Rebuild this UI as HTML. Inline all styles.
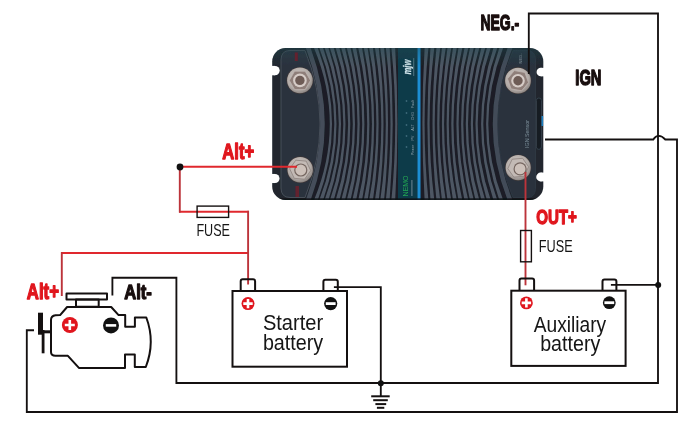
<!DOCTYPE html>
<html><head><meta charset="utf-8">
<style>
html,body{margin:0;padding:0;background:#fff;width:700px;height:424px;overflow:hidden}
svg{display:block}
text{font-family:"Liberation Sans",sans-serif}
</style></head><body>
<svg width="700" height="424" viewBox="0 0 700 424">
<defs>
  <radialGradient id="washer" cx="45%" cy="40%" r="60%"><stop offset="0" stop-color="#d2cbc7"/><stop offset="0.75" stop-color="#b3aca8"/><stop offset="1" stop-color="#8e8784"/></radialGradient>
  <linearGradient id="sheen" x1="0" y1="0" x2="0" y2="1"><stop offset="0" stop-color="#1f4a52" stop-opacity="0.4"/><stop offset="1" stop-color="#1f4a52" stop-opacity="0"/></linearGradient>
  <radialGradient id="nut" cx="50%" cy="45%" r="55%">
    <stop offset="0" stop-color="#b8a8a0"/>
    <stop offset="0.6" stop-color="#a39a95"/>
    <stop offset="1" stop-color="#6a6462"/>
  </radialGradient>
  <filter id="txt" x="-10%" y="-10%" width="120%" height="120%"><feGaussianBlur stdDeviation="0.25"/></filter>
  <filter id="soft" x="-5%" y="-5%" width="110%" height="110%"><feGaussianBlur stdDeviation="0.45"/></filter>
  <clipPath id="bodyclip"><rect x="272.2" y="48" width="271.1" height="152" rx="13.5"/></clipPath>
</defs>
<rect width="700" height="424" fill="#fff"/>

<!-- ============ DEVICE ============ -->
<g id="device" filter="url(#soft)">
  <rect x="272.2" y="48" width="271.1" height="152" rx="13.5" fill="#20272f"/>
  <g clip-path="url(#bodyclip)">
    <!-- left plate -->
    <path d="M281,60 Q281,50.5 290,50.5 L305,50.5 Q335,124 305,197.5 L290,197.5 Q281,197.5 281,188 Z" fill="#2c323e" stroke="#474f59" stroke-width="1"/>
    <!-- right plate -->
    <path d="M535.5,60 Q535.5,50.5 527,50.5 L513,50.5 Q482,124 513,197.5 L527,197.5 Q535.5,197.5 535.5,188 Z" fill="#29323e" stroke="#313a45" stroke-width="0.8"/>
    <!-- fin area -->
    <path d="M307.5,46 Q337.5,124 307.5,202 L398,202 L398,46 Z" fill="#1a1f26"/>
    <path d="M420,46 L420,202 L510.8,202 Q479.2,124 510.8,46 Z" fill="#1a1f26"/>
    <g fill="#4d5764">
<path d="M313.16,46 Q346.44,124 313.16,202 L317.04,202 Q346.96,124 317.04,46 Z"/>
<path d="M318.53,46 Q350.07,124 318.53,202 L322.41,202 Q350.59,124 322.41,46 Z"/>
<path d="M323.90,46 Q353.70,124 323.90,202 L327.78,202 Q354.22,124 327.78,46 Z"/>
<path d="M329.27,46 Q357.33,124 329.27,202 L333.15,202 Q357.85,124 333.15,46 Z"/>
<path d="M334.99,46 Q361.21,124 334.99,202 L338.88,202 Q361.72,124 338.88,46 Z"/>
<path d="M340.60,46 Q365.00,124 340.60,202 L344.49,202 Q365.51,124 344.49,46 Z"/>
<path d="M346.21,46 Q368.79,124 346.21,202 L350.10,202 Q369.30,124 350.10,46 Z"/>
<path d="M351.82,46 Q372.58,124 351.82,202 L355.70,202 Q373.10,124 355.70,46 Z"/>
<path d="M357.79,46 Q376.61,124 357.79,202 L361.67,202 Q377.13,124 361.67,46 Z"/>
<path d="M363.39,46 Q380.41,124 363.39,202 L367.28,202 Q380.92,124 367.28,46 Z"/>
<path d="M368.76,46 Q384.04,124 368.76,202 L372.65,202 Q384.55,124 372.65,46 Z"/>
<path d="M374.61,46 Q387.99,124 374.61,202 L378.50,202 Q388.50,124 378.50,46 Z"/>
<path d="M379.98,46 Q391.62,124 379.98,202 L383.87,202 Q392.13,124 383.87,46 Z"/>
<path d="M385.59,46 Q395.41,124 385.59,202 L389.47,202 Q395.93,124 389.47,46 Z"/>
<path d="M391.20,46 Q399.20,124 391.20,202 L395.08,202 Q399.72,124 395.08,46 Z"/>
<path d="M424.72,46 Q420.08,124 424.72,202 L428.60,202 Q420.60,124 428.60,46 Z"/>
<path d="M430.63,46 Q424.17,124 430.63,202 L434.51,202 Q424.69,124 434.51,46 Z"/>
<path d="M436.65,46 Q428.35,124 436.65,202 L440.54,202 Q428.86,124 440.54,46 Z"/>
<path d="M442.21,46 Q432.19,124 442.21,202 L446.09,202 Q432.71,124 446.09,46 Z"/>
<path d="M447.76,46 Q436.04,124 447.76,202 L451.65,202 Q436.55,124 451.65,46 Z"/>
<path d="M453.32,46 Q439.88,124 453.32,202 L457.20,202 Q440.40,124 457.20,46 Z"/>
<path d="M458.87,46 Q443.73,124 458.87,202 L462.76,202 Q444.24,124 462.76,46 Z"/>
<path d="M464.90,46 Q447.90,124 464.90,202 L468.79,202 Q448.41,124 468.79,46 Z"/>
<path d="M470.46,46 Q451.74,124 470.46,202 L474.34,202 Q452.26,124 474.34,46 Z"/>
<path d="M476.01,46 Q455.59,124 476.01,202 L479.90,202 Q456.10,124 479.90,46 Z"/>
<path d="M481.92,46 Q459.68,124 481.92,202 L485.81,202 Q460.19,124 485.81,46 Z"/>
<path d="M487.48,46 Q463.52,124 487.48,202 L491.36,202 Q464.04,124 491.36,46 Z"/>
<path d="M494.09,46 Q468.11,124 494.09,202 L497.98,202 Q468.62,124 497.98,46 Z"/>
<path d="M500.00,46 Q472.20,124 500.00,202 L503.89,202 Q472.71,124 503.89,46 Z"/>
    </g>
    <!-- highlight bands -->
    <path d="M307.5,46 Q337.5,124 307.5,202" stroke="#454e5a" stroke-width="4.5" fill="none"/>
    <path d="M510.8,46 Q479.2,124 510.8,202" stroke="#434c59" stroke-width="4.5" fill="none"/>
    <!-- center panel -->
    <rect x="398" y="46" width="19.5" height="156" fill="#0f3a4a"/>
    <rect x="417.5" y="46" width="3" height="156" fill="#1d8fd3"/>
    <!-- logo -->
    <g transform="translate(406.5,67) rotate(-90)" fill="#cfe4ea"><text x="0" y="4" font-size="11.5" font-weight="bold" font-style="italic" text-anchor="middle" textLength="15" lengthAdjust="spacingAndGlyphs" stroke="#cfe4ea" stroke-width="0.3">mjw</text></g>
    <rect x="413.3" y="58" width="0.9" height="18" fill="#5d7f8b"/>
    <!-- LED labels -->
    <g fill="#8fa6ae" font-size="3.6">
      <text transform="translate(414.2,104) rotate(-90)" text-anchor="middle">Fault</text>
      <text transform="translate(414.2,116) rotate(-90)" text-anchor="middle">CHG</text>
      <text transform="translate(414.2,127.5) rotate(-90)" text-anchor="middle">ALT</text>
      <text transform="translate(414.2,138) rotate(-90)" text-anchor="middle">PV</text>
      <text transform="translate(414.2,150) rotate(-90)" text-anchor="middle">Power</text>
    </g>
    <g fill="#3e6a78">
      <circle cx="406.5" cy="101" r="0.9"/><circle cx="406.5" cy="113" r="0.9"/><circle cx="406.5" cy="125" r="0.9"/><circle cx="406.5" cy="136" r="0.9"/><circle cx="406.5" cy="147" r="0.9"/>
    </g>
    <text transform="translate(407.8,186) rotate(-90)" text-anchor="middle" font-size="7.5" fill="#22a553" textLength="21" lengthAdjust="spacingAndGlyphs">NEMO</text>
    <rect x="411.3" y="180" width="1.2" height="16" fill="#5f7b86"/>
    <rect x="272" y="198.3" width="272" height="2.5" fill="#0d1014" opacity="0.85"/>
    <!-- top teal sheen -->
    <rect x="272" y="48" width="272" height="18" fill="url(#sheen)"/>
  </g>
  <!-- red polarity marks -->
  <rect x="294.8" y="52.5" width="3" height="8.5" fill="#6a1e2c" opacity="0.9"/>
  <rect x="295.5" y="186" width="3.5" height="11" fill="#6a1e2c" opacity="0.9"/>
  <!-- right slot -->
  <rect x="536.4" y="98" width="5" height="51.4" rx="2.5" fill="#161c22" stroke="#3a4651" stroke-width="0.8"/>
  <rect x="541.5" y="116" width="1.6" height="10" fill="#1e7fc0"/>
  <g fill="#7d8f98" font-size="4">
    <text transform="translate(529.3,134) rotate(-90)" text-anchor="middle" font-size="5" textLength="28" lengthAdjust="spacingAndGlyphs">IGN    Sensor</text>
    <text transform="translate(522,58.5) rotate(-90)" text-anchor="middle">NEG-</text>
  </g>
  <!-- notches -->
  <g fill="#fff">
    <rect x="271" y="65.9" width="4" height="9.4"/><circle cx="275" cy="70.6" r="4.7"/>
    <rect x="271" y="173.95" width="4" height="9.1"/><circle cx="275" cy="178.5" r="4.55"/>
    <rect x="540.8" y="67.85" width="4" height="8.5"/><circle cx="540.8" cy="72.1" r="4.25"/>
    <rect x="540.6" y="172.6" width="4" height="8.8"/><circle cx="540.6" cy="177" r="4.4"/>
  </g>
  <!-- terminals -->
  <g>
    <circle cx="299.9" cy="80.4" r="13.5" fill="#3b3637"/>
    <circle cx="299.9" cy="80.4" r="12.8" fill="url(#washer)"/>
    <polygon points="310.5,80.4 305.2,89.6 294.6,89.6 289.3,80.4 294.6,71.2 305.2,71.2" fill="#8f7f7a" stroke="#bdb3ae" stroke-width="0.8"/>
    <circle cx="299.9" cy="80.4" r="6.8" fill="#d6ccc7"/>
    <circle cx="299.9" cy="80.4" r="4.7" fill="#6e5b56"/>
    <circle cx="518" cy="80.7" r="13.6" fill="#3b3637"/>
    <circle cx="518" cy="80.7" r="12.9" fill="url(#washer)"/>
    <polygon points="528.5,82.6 521.7,90.8 511.1,88.9 507.5,78.8 514.3,70.6 524.9,72.5" fill="#8f7f7a" stroke="#bdb3ae" stroke-width="0.8"/>
    <circle cx="518" cy="80.7" r="6.8" fill="#d6ccc7"/>
    <circle cx="518" cy="80.7" r="4.7" fill="#6e5b56"/>
    <circle cx="300.2" cy="169.7" r="13.399999999999999" fill="#3b3637"/>
    <circle cx="300.2" cy="169.7" r="12.7" fill="url(#washer)"/>
    <polygon points="310.7,170.6 304.6,179.2 294.2,178.3 289.7,168.8 295.8,160.2 306.2,161.1" fill="#c3bab5" stroke="#8d827e" stroke-width="0.8"/>
    <circle cx="300.8" cy="170" r="6.6" fill="#74655f"/>
    <circle cx="300.8" cy="170" r="5.4" fill="#cdc1ba"/>
    <circle cx="518.2" cy="167.7" r="13.299999999999999" fill="#3b3637"/>
    <circle cx="518.2" cy="167.7" r="12.6" fill="url(#washer)"/>
    <polygon points="528.6,166.8 524.2,176.2 513.8,177.1 507.8,168.6 512.2,159.2 522.6,158.3" fill="#c3bab5" stroke="#8d827e" stroke-width="0.8"/>
    <circle cx="520.1" cy="168.9" r="6.6" fill="#74655f"/>
    <circle cx="520.1" cy="168.9" r="5.4" fill="#cdc1ba"/>
  </g>
</g>

<!-- ============ WIRES ============ -->
<g fill="none" stroke-linejoin="miter" stroke-linecap="butt">
  <!-- black: NEG / Alt- / ground loop -->
  <path d="M528.8,74 V13.5 H658 V383 H176.4 V277.7 H112.4 V295.5" stroke="#141010" stroke-width="1.85"/>
  <!-- IGN loop -->
  <path d="M545,139.5 H653.3 Q655.5,135.9 658.8,135.9 Q662,135.9 665.3,139.5 H677 V412 H26.8 V330.2 H34" stroke="#141010" stroke-width="1.85"/>
  <!-- starter neg to ground -->
  <path d="M333.9,287.1 H380.8 V396" stroke="#141010" stroke-width="1.85"/>
  <!-- aux neg -->
  <path d="M610.9,284.9 H658" stroke="#141010" stroke-width="1.85"/>
  <!-- red wires: horizontals bright, verticals slightly darker -->
  <g stroke="#e0282e" stroke-width="2">
    <path d="M297,166.8 H179"/>
    <path d="M179,211.7 H249"/>
    <path d="M61,253.1 H249"/>
  </g>
  <g stroke="#bc343b" stroke-width="1.9">
    <path d="M179.8,166.8 V212.6"/>
    <path d="M248.1,210.8 V284.5"/>
    <path d="M61.8,296 V252.2"/>
    <path d="M525.5,172 V285.3"/>
  </g>
</g>
<!-- junction dots -->
<circle cx="180" cy="167" r="3.4" fill="#111"/>
<circle cx="380.8" cy="383.2" r="3" fill="#111"/>
<circle cx="658.2" cy="284.9" r="3" fill="#111"/>

<!-- ground -->
<g stroke="#141010" stroke-width="2">
  <line x1="371.2" y1="396.3" x2="389.7" y2="396.3"/>
  <line x1="373.2" y1="400.2" x2="387.8" y2="400.2"/>
  <line x1="375.4" y1="404.1" x2="386.2" y2="404.1"/>
  <line x1="376.9" y1="407.8" x2="384.3" y2="407.8"/>
</g>

<!-- fuses -->
<rect x="197.1" y="206.1" width="31.5" height="11.3" fill="none" stroke="#141010" stroke-width="1.4"/>
<rect x="520.6" y="230.5" width="10.8" height="31.3" fill="none" stroke="#141010" stroke-width="1.4"/>

<!-- batteries -->
<g fill="none" stroke="#141010" stroke-width="2">
  <rect x="232.5" y="291" width="114.5" height="75.7"/>
  <path d="M240.7,291 V281.2 Q240.7,279.2 242.7,279.2 H253.1 Q255.1,279.2 255.1,281.2 V291"/>
  <path d="M323.4,291 V281.8 Q323.4,279.8 325.4,279.8 H335.8 Q337.8,279.8 337.8,281.8 V291"/>
  <rect x="511.3" y="290.7" width="114.3" height="75.2"/>
  <path d="M519.5,290.7 V280.5 Q519.5,278.5 521.5,278.5 H532.1 Q534.1,278.5 534.1,280.5 V290.7"/>
  <path d="M602.5,290.7 V281.4 Q602.5,279.4 604.5,279.4 H614.4 Q616.4,279.4 616.4,281.4 V290.7"/>
</g>
<!-- battery signs -->
<g>
  <circle cx="248" cy="303.6" r="6.5" fill="#e0161e"/>
  <path d="M243.3,303.6 H252.7 M248,298.9 V308.3" stroke="#fff" stroke-width="2.6"/>
  <circle cx="330.7" cy="303.6" r="6.6" fill="#111"/>
  <path d="M325.8,303.6 H335.6" stroke="#fff" stroke-width="2.8"/>
  <circle cx="526.4" cy="302.9" r="6.4" fill="#e0161e"/>
  <path d="M521.7,302.9 H531.1 M526.4,298.2 V307.6" stroke="#fff" stroke-width="2.6"/>
  <circle cx="609.3" cy="302.7" r="6.4" fill="#111"/>
  <path d="M604.4,302.7 H614.2" stroke="#fff" stroke-width="2.8"/>
</g>

<!-- engine -->
<g fill="none" stroke="#141010" stroke-width="2" stroke-linejoin="round">
  <rect x="66.5" y="293.5" width="40.5" height="6"/>
  <rect x="76" y="299.5" width="22.7" height="7.3"/>
  <path d="M67.1,307 L60.1,315.1 L55.5,315.3 Q51,315.8 51,320 L51,352 Q51,355.8 55.4,355.8 L67.9,355.8 L78.9,367.9 L125,367.9 L125,354.5 L134.8,354.5 L134.8,367 L145.8,367 Q155.5,342 146.3,317.5 L134.9,317.5 L134.9,326.8 L125.2,326.8 L125.2,315.1 L118.6,315.1 L111.2,307 Z"/>
</g>
<!-- engine fan -->
<rect x="38" y="312.7" width="5" height="22" fill="#141010"/>
<rect x="41.7" y="330" width="2.8" height="23.3" fill="#141010"/>
<rect x="43" y="330.3" width="8.5" height="3" fill="#141010"/>
<circle cx="69.9" cy="325" r="8" fill="#e0161e"/>
<path d="M64.8,325 H74.8 M69.8,320 V330" stroke="#fff" stroke-width="2.6"/>
<circle cx="111" cy="325.4" r="8" fill="#111"/>
<path d="M105.8,325.4 H116.2" stroke="#fff" stroke-width="2.6"/>

<!-- labels -->
<g font-weight="bold" stroke-width="1" stroke-linejoin="round" filter="url(#txt)">
  <text x="222.35" y="159.1" font-size="21.6" fill="#e0141e" stroke="#e0141e" stroke-width="1.3" textLength="31.7" lengthAdjust="spacingAndGlyphs">Alt+</text>
  <text x="26.85" y="299.1" font-size="21.6" fill="#e0141e" stroke="#e0141e" stroke-width="1.3" textLength="32.1" lengthAdjust="spacingAndGlyphs">Alt+</text>
  <text x="124.25" y="298.95" font-size="20.6" fill="#1a0e0e" stroke="#1a0e0e" stroke-width="1.3" textLength="27.6" lengthAdjust="spacingAndGlyphs">Alt-</text>
  <text x="536.15" y="224.05" font-size="21.1" fill="#e0141e" stroke="#e0141e" stroke-width="1.3" textLength="40.8" lengthAdjust="spacingAndGlyphs">OUT+</text>
  <text x="480.4" y="29.7" font-size="21.8" fill="#1a0e0e" stroke="#1a0e0e" stroke-width="1.4" textLength="38.9" lengthAdjust="spacingAndGlyphs">NEG.-</text>
  <text x="575.3" y="85.1" font-size="21.4" fill="#1a0e0e" stroke="#1a0e0e" stroke-width="1.4" textLength="26.1" lengthAdjust="spacingAndGlyphs">IGN</text>
</g>
<g fill="#141414" filter="url(#txt)">
  <text x="196.4" y="236.4" font-size="16.5" textLength="33.6" lengthAdjust="spacingAndGlyphs">FUSE</text>
  <text x="538.8" y="251.9" font-size="16" textLength="33.8" lengthAdjust="spacingAndGlyphs">FUSE</text>
  <text x="262.9" y="330.2" font-size="21.5" textLength="60.3" lengthAdjust="spacingAndGlyphs">Starter</text>
  <text x="262.9" y="349.9" font-size="21.5" textLength="60.3" lengthAdjust="spacingAndGlyphs">battery</text>
  <text x="533.7" y="331.7" font-size="21.5" textLength="72.5" lengthAdjust="spacingAndGlyphs">Auxiliary</text>
  <text x="540.2" y="351.3" font-size="21.5" textLength="60.1" lengthAdjust="spacingAndGlyphs">battery</text>
</g>
</svg>

</body></html>
